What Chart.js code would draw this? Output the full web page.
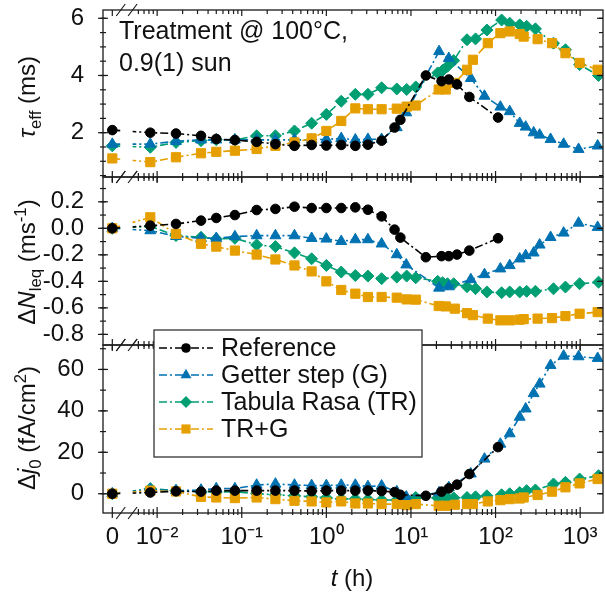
<!DOCTYPE html>
<html>
<head>
<meta charset="utf-8">
<script src="https://cdn.jsdelivr.net/npm/chart.js@4.4.0/dist/chart.umd.min.js"></script>
<style>
  html, body { margin: 0; padding: 0; background: #fff; }
  #wrap { position: relative; width: 605px; height: 604px; overflow: hidden;
          font-family: "Liberation Sans", Arial, sans-serif; color: #111; }
  #wrap canvas { position: absolute; left: 0; top: 0; }
  .txt { position: absolute; white-space: nowrap; z-index: 5; }
  .ytitle { font-size: 24px; transform: translate(-50%, -50%) rotate(-90deg); }
  .note { font-size: 25px; line-height: 32px; }
  .xtitle { font-size: 24px; transform: translate(-50%, -50%); }
  sub, sup { font-size: 70%; line-height: 0; }
</style>
</head>
<body>
<div id="wrap">
  <canvas id="c1" width="605" height="604"></canvas>
  <canvas id="c2" width="605" height="604"></canvas>
  <canvas id="c3" width="605" height="604"></canvas>
  <div class="txt note" style="left:119px; top:14px">Treatment @ 100°C,<br>0.9(1) sun</div>
  <div class="txt ytitle" style="left:27px; top:97px"><i>τ</i><sub>eff</sub> (ms)</div>
  <div class="txt ytitle" style="left:27px; top:262px">Δ<i>N</i><sub>leq</sub> (ms<sup>-1</sup>)</div>
  <div class="txt ytitle" style="left:27px; top:428px">Δ<i>j</i><sub>0</sub> (fA/cm<sup>2</sup>)</div>
  <div class="txt xtitle" style="left:352px; top:578px"><i>t</i> (h)</div>
</div>
<script>
// treatment time in hours (0 = before treatment)
const refTime = [0, 0.0083, 0.0167, 0.033, 0.05, 0.083, 0.15, 0.25, 0.42, 0.67, 1, 1.5, 2.2, 3.1, 4.5, 6.4, 7.5, 15, 23, 28, 35, 49, 107];
const refTau  = [2.09, 2.0, 1.97, 1.89, 1.78, 1.74, 1.68, 1.6, 1.54, 1.57, 1.55, 1.57, 1.54, 1.58, 1.72, 2.18, 2.45, 4.0, 3.8, 3.86, 3.69, 3.25, 2.53];
const refDN   = [0, 0.02, 0.033, 0.058, 0.078, 0.10, 0.138, 0.146, 0.163, 0.153, 0.153, 0.153, 0.158, 0.14, 0.09, -0.01, -0.07, -0.218, -0.21, -0.21, -0.198, -0.168, -0.075];
const refDJ   = [0, 0.6, 1.2, 1.0, 1.5, 1.5, 1.5, 1.5, 1.5, 1.3, 1.5, 1.5, 1.5, 1.5, 1.3, 0.8, -0.5, -1.0, 1.0, 2.6, 4.4, 9.5, 22.5];

const getTime = [0, 0.0083, 0.0167, 0.033, 0.05, 0.083, 0.15, 0.25, 0.42, 0.67, 1, 1.5, 2.2, 3.1, 4.5, 6.8, 8.8, 21.5, 28, 51, 74, 114, 147, 193, 227, 282, 332, 447, 638, 958, 1610];
const getTau  = [1.6, 1.6, 1.7, 1.75, 1.75, 1.75, 1.75, 1.75, 1.75, 1.75, 1.77, 1.8, 1.75, 1.77, 1.77, 2.18, 2.7, 4.84, 4.6, 3.9, 3.28, 2.9, 2.74, 2.33, 2.2, 2.0, 1.92, 1.77, 1.6, 1.42, 1.54];
const getDN   = [0, -0.017, -0.06, -0.075, -0.075, -0.062, -0.055, -0.055, -0.055, -0.075, -0.08, -0.098, -0.085, -0.085, -0.117, -0.198, -0.275, -0.45, -0.44, -0.386, -0.348, -0.305, -0.28, -0.23, -0.205, -0.185, -0.125, -0.068, -0.035, 0.04, 0.008];
const getDJ   = [0, 2.0, 1.5, 1.8, 2.5, 2.5, 4.2, 4.7, 4.2, 4.0, 4.0, 4.2, 4.2, 3.5, 3.8, 1.0, -1.5, 0.5, 3.0, 9.6, 16.8, 24, 29, 37, 41, 48.4, 53, 62, 66.5, 66.2, 65.4];

const trTime = [0, 0.0083, 0.0167, 0.033, 0.05, 0.083, 0.15, 0.25, 0.42, 0.67, 1, 1.5, 2.2, 3.1, 4.5, 6.8, 8.9, 11.4, 20.7, 23.7, 27, 32, 46, 58, 79, 118, 147, 193, 233, 296, 484, 670, 985, 1650];
const trTau  = [1.54, 1.49, 1.66, 1.72, 1.75, 1.75, 1.89, 1.89, 2.06, 2.33, 2.64, 3.1, 3.34, 3.34, 3.57, 3.53, 3.51, 3.6, 4.09, 4.18, 4.32, 4.52, 5.25, 5.28, 5.59, 5.94, 5.83, 5.77, 5.72, 5.63, 5.13, 4.9, 4.38, 4.0];
const trDN   = [0, 0.015, -0.055, -0.068, -0.08, -0.075, -0.125, -0.138, -0.185, -0.23, -0.28, -0.33, -0.356, -0.36, -0.38, -0.368, -0.36, -0.373, -0.4, -0.41, -0.418, -0.418, -0.44, -0.455, -0.48, -0.486, -0.48, -0.48, -0.475, -0.475, -0.456, -0.443, -0.418, -0.406];
const trDJ   = [0, 2.5, 1.5, 1.0, 0.8, 1.0, 0, -0.5, -1.0, -1.5, -2.0, -2.5, -2.5, -2.8, -3.0, -3.0, -2.5, -1.8, -2, -2, -2, -2, -1.8, -1.5, -1.0, -0.5, 0, 0.6, 1.5, 1.8, 4.7, 5.5, 7.1, 8.7];

const trgTime = [0, 0.0083, 0.0167, 0.033, 0.05, 0.083, 0.15, 0.25, 0.42, 0.67, 1, 1.5, 2.2, 3.1, 4.5, 6.8, 8.9, 11.4, 21.3, 25.8, 33, 46, 54, 81, 114, 147, 193, 215, 314, 465, 670, 985, 1610];
const trgTau  = [1.1, 0.97, 1.14, 1.28, 1.33, 1.37, 1.43, 1.54, 1.66, 1.8, 2.06, 2.41, 2.85, 2.82, 2.82, 2.84, 2.91, 2.95, 3.51, 3.51, 3.74, 4.2, 4.55, 5.13, 5.48, 5.54, 5.45, 5.36, 5.27, 5.13, 4.78, 4.44, 4.2];
const trgDN   = [0, 0.083, -0.042, -0.117, -0.138, -0.168, -0.198, -0.235, -0.28, -0.325, -0.4, -0.465, -0.493, -0.518, -0.518, -0.523, -0.536, -0.538, -0.586, -0.589, -0.606, -0.64, -0.655, -0.681, -0.694, -0.694, -0.689, -0.685, -0.681, -0.677, -0.662, -0.644, -0.632];
const trgDJ   = [0, 1.5, 1.1, -1.5, -1.8, -2.1, -1.8, -2.6, -3.4, -3.7, -4.2, -3.7, -4.7, -4.7, -5, -5, -5.5, -5, -5.8, -5.8, -5.3, -5, -5, -3.7, -3.1, -2.6, -2.3, -1.8, -0.6, 1.0, 3.1, 5.0, 7.1];

const seriesNames = ["Reference", "Getter step (G)", "Tabula Rasa (TR)", "TR+G"];
const xTickLabels = ["0", "10⁻²", "10⁻¹", "10⁰", "10¹", "10²", "10³"];

// x axis: log10(t), with t = 0 put left of a broken axis
const ZERO_U = -2.53;
const X_MIN = -2.64, X_MAX = 3.27;
const BREAK_U = [-2.43, -2.29];
const X_MAJOR = [ZERO_U, -2, -1, 0, 1, 2, 3];
const toU = t => t === 0 ? ZERO_U : Math.log10(t);
const pts = (ts, vs) => ts.map((t, i) => ({ x: toU(t), y: vs[i] }));

const xMinor = [];
for (let n = -3; n <= 3; n++) {
    for (let k = 2; k <= 9; k++) {
        const u = n + Math.log10(k);
        if (u > BREAK_U[1] && u < X_MAX) xMinor.push(u);
    }
}

const AXIS = "#1a1a1a";
const DASH = [8, 3, 2, 3];
const styles = [
    { color: "#000000", pointStyle: "circle", radius: 4.8, order: 0 },
    { color: "#0072B2", pointStyle: "triangle", radius: 6.3, order: 2 },
    { color: "#009E73", pointStyle: "rectRot", radius: 6, order: 3 },
    { color: "#E69F00", pointStyle: "rect", radius: 6.5, order: 1 },
];

Chart.defaults.font.family = '"Liberation Sans", Arial, sans-serif';
Chart.defaults.color = "#111";

const makeDatasets = (lists) => lists.map((data, i) => ({
    label: seriesNames[i],
    data,
    borderColor: styles[i].color,
    backgroundColor: styles[i].color,
    borderWidth: 1.6,
    borderDash: DASH,
    pointStyle: styles[i].pointStyle,
    pointRadius: styles[i].radius,
    pointBorderWidth: 1,
    pointBackgroundColor: styles[i].color,
    pointBorderColor: styles[i].color,
    order: styles[i].order,
    tension: 0,
}));

const framePlugin = {
    id: "frame",
    afterDatasetsDraw(chart, args, o) {
        const { ctx, chartArea: a } = chart;
        const x = chart.scales.x, y = chart.scales.y;
        const seg = (x1, y1, x2, y2) => { ctx.beginPath(); ctx.moveTo(x1, y1); ctx.lineTo(x2, y2); ctx.stroke(); };
        ctx.save();
        // blank out the lines inside the axis break
        const g1 = x.getPixelForValue(BREAK_U[0]), g2 = x.getPixelForValue(BREAK_U[1]);
        ctx.fillStyle = "#fff";
        ctx.fillRect(g1, a.top + 1, g2 - g1, a.bottom - a.top - 2);

        ctx.strokeStyle = AXIS;
        ctx.lineWidth = 1.3;
        ctx.strokeRect(a.left, a.top, a.right - a.left, a.bottom - a.top);
        ctx.lineWidth = 1.2;
        X_MAJOR.forEach(u => {
            const p = x.getPixelForValue(u);
            seg(p, a.bottom - 6, p, a.bottom + 5);
            seg(p, a.top, p, a.top + 6);
        });
        xMinor.forEach(u => {
            const p = x.getPixelForValue(u);
            seg(p, a.bottom - 4, p, a.bottom + 2);
            seg(p, a.top, p, a.top + 4);
        });
        y.ticks.forEach(t => {
            const p = y.getPixelForValue(t.value);
            seg(a.left - 5, p, a.left + 5, p);
            seg(a.right - 6, p, a.right, p);
        });
        const step = o.minor;
        for (let v = Math.ceil(y.min / step) * step; v <= y.max + 1e-9; v += step) {
            const p = y.getPixelForValue(v);
            seg(a.left - 3, p, a.left + 3, p);
            seg(a.right - 4, p, a.right, p);
        }
        // break marks
        [a.top, a.bottom].forEach(yy => [g1, g2].forEach(xx => seg(xx - 4.5, yy + 6, xx + 4.5, yy - 6)));
        ctx.restore();

        if (o.legend) drawLegend(chart);
    }
};

function drawMarker(ctx, style, r, cx, cy) {
    ctx.beginPath();
    if (style === "circle") {
        ctx.arc(cx, cy, r, 0, Math.PI * 2);
    } else if (style === "triangle") {
        ctx.moveTo(cx, cy - r);
        ctx.lineTo(cx + r * Math.sin(2 * Math.PI / 3), cy - r * Math.cos(2 * Math.PI / 3));
        ctx.lineTo(cx + r * Math.sin(4 * Math.PI / 3), cy - r * Math.cos(4 * Math.PI / 3));
        ctx.closePath();
    } else if (style === "rectRot") {
        ctx.moveTo(cx, cy - r); ctx.lineTo(cx + r, cy); ctx.lineTo(cx, cy + r); ctx.lineTo(cx - r, cy);
        ctx.closePath();
    } else {
        const h = r * Math.SQRT1_2;
        ctx.rect(cx - h, cy - h, 2 * h, 2 * h);
    }
    ctx.fill();
}

function drawLegend(chart) {
    const ctx = chart.ctx;
    const box = { left: 154, top: 330, right: 422, bottom: 457 };
    const rows = [348, 375, 402, 429];
    ctx.save();
    ctx.fillStyle = "#fff";
    ctx.fillRect(box.left, box.top, box.right - box.left, box.bottom - box.top);
    ctx.strokeStyle = "#333";
    ctx.lineWidth = 1.3;
    ctx.strokeRect(box.left, box.top, box.right - box.left, box.bottom - box.top);
    chart.data.datasets.forEach((ds, i) => {
        const yy = rows[i];
        ctx.strokeStyle = ds.borderColor;
        ctx.lineWidth = 1.6;
        ctx.setLineDash(DASH);
        ctx.beginPath(); ctx.moveTo(159, yy); ctx.lineTo(213, yy); ctx.stroke();
        ctx.setLineDash([]);
        ctx.fillStyle = ds.borderColor;
        drawMarker(ctx, ds.pointStyle, ds.pointRadius, 186, yy);
        ctx.fillStyle = "#111";
        ctx.font = '25px "Liberation Sans", Arial, sans-serif';
        ctx.textBaseline = "middle";
        ctx.fillText(ds.label, 221, yy + 1);
    });
    ctx.restore();
}

function makePanel(id, lists, yCfg, pad, showX, legend) {
    new Chart(document.getElementById(id), {
        type: "line",
        data: { datasets: makeDatasets(lists) },
        options: {
            responsive: false,
            animation: false,
            layout: { autoPadding: false, padding: { top: pad.top, bottom: pad.bottom, left: 0, right: 2 } },
            plugins: {
                legend: { display: false },
                tooltip: { enabled: false },
                frame: { minor: yCfg.minor, legend },
            },
            scales: {
                x: {
                    type: "linear",
                    min: X_MIN, max: X_MAX,
                    display: showX,
                    grid: { display: false },
                    border: { display: false },
                    afterBuildTicks: s => { s.ticks = X_MAJOR.map(v => ({ value: v })); },
                    afterFit: s => {
                        s.height = showX ? 91 : 0;
                        s.paddingLeft = 0; s.paddingRight = 0;
                    },
                    ticks: {
                        autoSkip: false, maxRotation: 0, padding: 2,
                        font: { size: 24 }, color: "#111",
                        callback: (v, i) => xTickLabels[i],
                    },
                },
                y: {
                    type: "linear",
                    min: yCfg.min, max: yCfg.max,
                    grid: { display: false },
                    border: { display: false },
                    afterFit: s => { s.width = 103; s.paddingTop = 0; s.paddingBottom = 0; },
                    ticks: {
                        stepSize: yCfg.step, includeBounds: false, padding: 11,
                        font: { size: 24 }, color: "#111",
                        callback: yCfg.fmt,
                    },
                },
            },
        },
        plugins: [framePlugin],
    });
}

makePanel("c1",
    [pts(refTime, refTau), pts(getTime, getTau), pts(trTime, trTau), pts(trgTime, trgTau)],
    { min: 0.45, max: 6.29, step: 2, minor: 0.5, fmt: v => String(Math.round(v)) },
    { top: 10, bottom: 427 }, false, false);

makePanel("c2",
    [pts(refTime, refDN), pts(getTime, getDN), pts(trTime, trDN), pts(trgTime, trgDN)],
    { min: -0.88, max: 0.387, step: 0.2, minor: 0.1, fmt: v => (Math.abs(v) < 1e-9 ? 0 : v).toFixed(1) },
    { top: 177, bottom: 259 }, false, false);

makePanel("c3",
    [pts(refTime, refDJ), pts(getTime, getDJ), pts(trTime, trDJ), pts(trgTime, trgDJ)],
    { min: -9.3, max: 71.8, step: 20, minor: 10, fmt: v => String(Math.round(v)) },
    { top: 345, bottom: 0 }, true, true);
</script>
</body>
</html>
